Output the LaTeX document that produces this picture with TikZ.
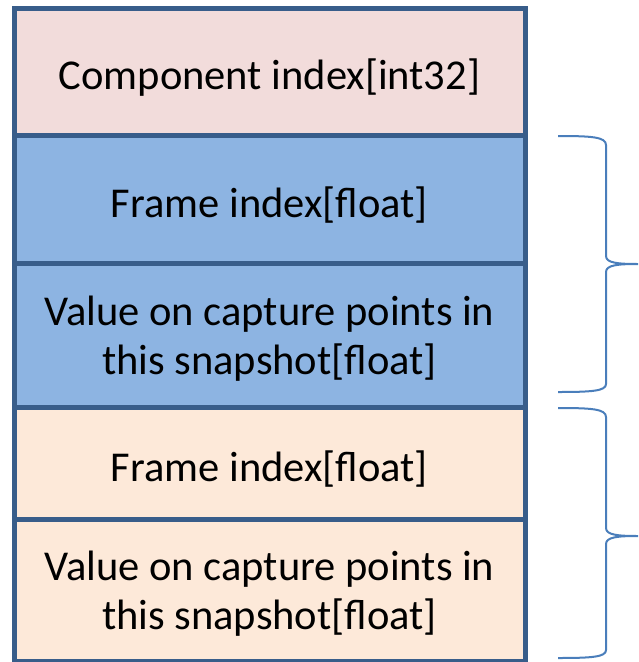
\documentclass[tikz,border=0pt]{standalone}
\usepackage{fontspec}
\setmainfont{Carlito}
\usetikzlibrary{positioning}
\definecolor{rowline}{HTML}{385D8A}
\definecolor{pinkfill}{HTML}{F2DCDB}
\definecolor{bluefill}{HTML}{8DB4E2}
\definecolor{peachfill}{HTML}{FDE9D9}
\definecolor{bracecol}{HTML}{4A7EBB}
\newcommand{\twolines}[2]{\begin{tabular}{@{}c@{}}\rule{0pt}{45pt}#1\\#2\end{tabular}}
\tikzset{
  field/.style={draw=rowline, line width=5pt, minimum width=511pt, outer sep=0pt,
    inner sep=0pt, align=center, font=\fontsize{42.5}{49}\selectfont,
    execute at begin node={\rule{0pt}{42pt}}},
  twoline/.style={draw=rowline, line width=5pt, minimum width=511pt, outer sep=0pt,
    inner sep=0pt, font=\fontsize{42.5}{49}\selectfont},
  bracket/.style={draw=bracecol, line width=2pt},
}
\begin{document}
\begin{tikzpicture}[x=1pt, y=-1pt]
  \useasboundingbox (0,0) rectangle (638,662);
  % record layout
  \node[field, fill=pinkfill, minimum height=127pt, anchor=north west] (comp) at (14,8) {Component index[int32]};
  \node[field, fill=bluefill, minimum height=128pt, below=0pt of comp] (frameA) {Frame index[float]};
  \node[twoline, fill=bluefill, minimum height=144pt, below=0pt of frameA] (valueA) {\twolines{Value on capture points in}{this snapshot[float]}};
  \node[field, fill=peachfill, minimum height=112pt, below=0pt of valueA] (frameB) {Frame index[float]};
  \node[twoline, fill=peachfill, minimum height=142pt, below=0pt of frameB] (valueB) {\twolines{Value on capture points in}{this snapshot[float]}};
  % braces
  \draw[bracket] (558,136) .. controls (592,136) and (606,137) .. (606,145)
    -- (606,256) .. controls (606,263) and (618,264) .. (638,264)
    .. controls (618,264) and (606,265) .. (606,272)
    -- (606,384) .. controls (606,391) and (592,392) .. (558,392);
  \draw[bracket] (558,408) .. controls (592,408) and (606,409) .. (606,417)
    -- (606,528) .. controls (606,535) and (618,536) .. (638,536)
    .. controls (618,536) and (606,537) .. (606,544)
    -- (606,650) .. controls (606,657) and (592,658) .. (558,658);
\end{tikzpicture}
\end{document}
